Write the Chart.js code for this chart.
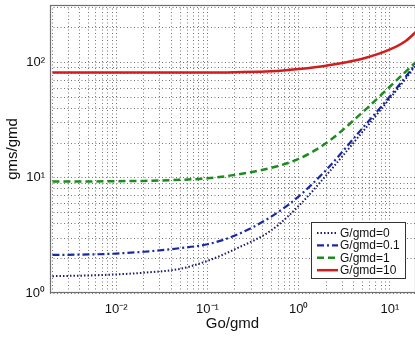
<!DOCTYPE html>
<html><head><meta charset="utf-8">
<script src="https://cdn.jsdelivr.net/npm/chart.js@4/dist/chart.umd.min.js"></script>
<style>html,body{margin:0;padding:0;background:#fff}#wrap{width:415px;height:337px}</style>
</head><body><div id="wrap"><canvas id="c" width="415" height="337"></canvas></div>
<script>
// Data
const goValues = [0.002, 0.005, 0.01, 0.02, 0.05, 0.1, 0.2, 0.5, 1, 2, 5, 10, 15, 20];
const gms_G0   = [1.4, 1.42, 1.45, 1.5, 1.62, 1.9, 2.4, 3.5, 5.7, 10.5, 25, 49, 73, 100];
const gms_G01  = [2.14, 2.16, 2.2, 2.28, 2.45, 2.65, 3.15, 4.6, 6.9, 11.7, 27, 51, 76, 102];
const gms_G1   = [9.3, 9.3, 9.35, 9.4, 9.6, 9.9, 10.6, 12.2, 14.6, 20, 37, 62, 84, 104];
const gms_G10  = [82, 82, 82, 82, 82, 82, 82.5, 84, 88, 94, 108, 130, 155, 190];
const seriesLabels = ['G/gmd=0', 'G/gmd=0.1', 'G/gmd=1', 'G/gmd=10'];
const xDecades = [-2, -1, 0, 1];
const yDecades = [0, 1, 2];
const xTitle = 'Go/gmd';
const yTitle = 'gms/gmd';

const styles = [
  {color:'#1c1c6a', dash:[1.5,2], width:2},
  {color:'#1a2aa0', dash:[7,3,2,3], width:2.2},
  {color:'#1f8a1f', dash:[7,4], width:2.5},
  {color:'#d01e1e', dash:[], width:2.5}
];
const allSeries = [gms_G0, gms_G01, gms_G1, gms_G10];

const sup = {'-':'\u207B','0':'\u2070','1':'\u00B9','2':'\u00B2','3':'\u00B3'};
function decLabel(e){ return '10' + String(e).split('').map(c=>sup[c]).join(''); }
function logTicks(min, max){
  const out=[];
  for(let e=Math.floor(Math.log10(min)); e<=Math.ceil(Math.log10(max)); e++){
    for(let m=1;m<=9;m++){ const v=m*Math.pow(10,e); if(v>=min*0.999 && v<=max*1.001) out.push(v); }
  }
  return out;
}
function tickCb(decs){
  return function(v){
    const e=Math.round(Math.log10(v));
    if(Math.abs(Math.log10(v)-e)<1e-6 && decs.includes(e)) return decLabel(e);
    return '';
  };
}

const datasets = allSeries.map((s,i)=>({
  label: seriesLabels[i],
  data: goValues.map((x,j)=>({x:x, y:s[j]})),
  borderColor: styles[i].color,
  borderDash: styles[i].dash,
  borderWidth: styles[i].width,
  pointRadius: 0,
  fill:false,
  cubicInterpolationMode:'monotone'
}));

const framePlugin = {
  id:'frameLegend',
  afterDatasetsDraw(chart){
    const {ctx, chartArea:a} = chart;
    ctx.save();
    ctx.strokeStyle='#6e6e6e'; ctx.lineWidth=1.2; ctx.setLineDash([]);
    ctx.strokeRect(a.left+0.5, a.top+0.5, a.right-a.left, a.bottom-a.top-1);
    // legend box
    const bx=311, by=222, bw=94, bh=56;
    ctx.fillStyle='#fff'; ctx.fillRect(bx,by,bw,bh);
    ctx.strokeStyle='#333'; ctx.lineWidth=1; ctx.strokeRect(bx+0.5,by+0.5,bw,bh);
    ctx.font='12px "Liberation Sans", Arial, sans-serif';
    ctx.textBaseline='middle'; ctx.textAlign='left';
    seriesLabels.forEach((lab,i)=>{
      const y=by+11+i*12.4;
      ctx.beginPath(); ctx.setLineDash(styles[i].dash); ctx.lineWidth=styles[i].width;
      ctx.strokeStyle=styles[i].color; ctx.moveTo(317,y); ctx.lineTo(338,y); ctx.stroke();
      ctx.setLineDash([]); ctx.fillStyle='#111'; ctx.fillText(lab,340,y+0.5);
    });
    ctx.restore();
  }
};

new Chart(document.getElementById('c'), {
  type:'line',
  data:{datasets},
  options:{
    responsive:false, animation:false, devicePixelRatio:1,
    layout:{padding:{top:5,right:0,left:0,bottom:0}},
    plugins:{legend:{display:false}, tooltip:{enabled:false}},
    scales:{
      x:{
        type:'logarithmic', min:0.00188, max:18.8,
        afterBuildTicks:(s)=>{ s.ticks=logTicks(s.min,s.max).map(v=>({value:v})); },
        afterFit:(s)=>{ s.height=44; s.paddingLeft=0; s.paddingRight=0; },
        ticks:{callback:tickCb(xDecades), autoSkip:false, maxRotation:0, padding:9, color:'#111',
               font:{family:'"Liberation Sans", Arial, sans-serif', size:13}},
        grid:{color:'rgba(70,70,70,0.75)', lineWidth:1, drawTicks:false},
        border:{display:false, dash:[1,2.5]},
        title:{display:true, text:xTitle, color:'#111', font:{family:'"Liberation Sans", Arial, sans-serif', size:15}, padding:{top:0,bottom:4}}
      },
      y:{
        type:'logarithmic', min:1, max:316,
        afterBuildTicks:(s)=>{ s.ticks=logTicks(s.min,s.max).map(v=>({value:v})); },
        afterFit:(s)=>{ s.width=50; s.paddingTop=0; s.paddingBottom=0; },
        ticks:{callback:tickCb(yDecades), autoSkip:false, padding:5, color:'#111',
               font:{family:'"Liberation Sans", Arial, sans-serif', size:13}},
        grid:{color:'rgba(70,70,70,0.75)', lineWidth:1, drawTicks:false},
        border:{display:false, dash:[1,2.5]},
        title:{display:true, text:yTitle, color:'#111', font:{family:'"Liberation Sans", Arial, sans-serif', size:15}, padding:{top:4,bottom:0}}
      }
    }
  },
  plugins:[framePlugin]
});
</script></body></html>
